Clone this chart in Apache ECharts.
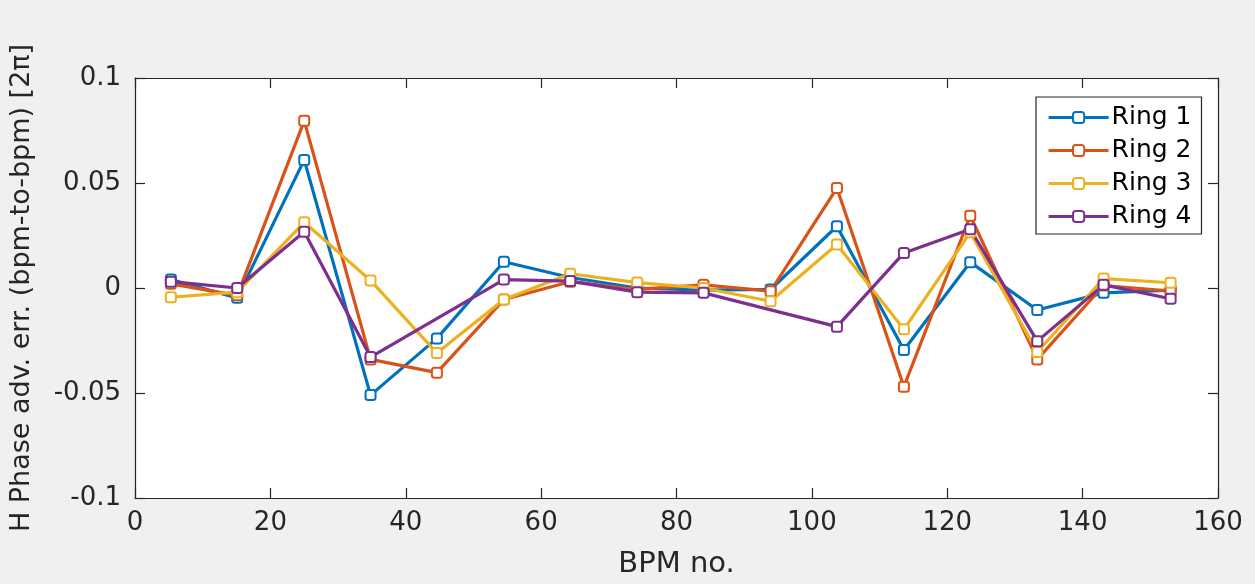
<!DOCTYPE html>
<html>
<head>
<meta charset="utf-8">
<script src="https://cdn.jsdelivr.net/npm/echarts@6/dist/echarts.min.js"></script>
<style>
html,body{margin:0;padding:0;background:#f0f0f0;}
#chart{width:1255px;height:584px;}
</style>
</head>
<body>
<div id="chart"></div>
<script>
const bpm = [5.3, 15.1, 25.0, 34.8, 44.6, 54.5, 64.3, 74.2, 84.0, 93.9, 103.7, 113.6, 123.4, 133.3, 143.1, 153.0];
const ring1 = [0.004, -0.0047, 0.061, -0.051, -0.024, 0.0125, 0.005, 0.0, -0.001, -0.0007, 0.0294, -0.0295, 0.0123, -0.0105, -0.0023, -0.001];
const ring2 = [0.002, -0.0035, 0.0796, -0.034, -0.0403, -0.0055, 0.003, -0.0007, 0.0015, -0.0015, 0.0476, -0.047, 0.0344, -0.034, 0.0012, -0.0015];
const ring3 = [-0.0044, -0.002, 0.0313, 0.0036, -0.031, -0.0055, 0.0068, 0.0026, 0.0, -0.0063, 0.0207, -0.0197, 0.0265, -0.0305, 0.0045, 0.0025];
const ring4 = [0.003, 0.0, 0.0268, -0.0329, null, 0.004, 0.0033, -0.002, -0.0023, null, -0.0184, 0.0167, 0.028, -0.0253, 0.0015, -0.0051];
const seriesNames = ['Ring 1', 'Ring 2', 'Ring 3', 'Ring 4'];
const colors = ['#0072BD', '#D95319', '#EDB120', '#7E2F8E'];
const xTicks = ['0', '20', '40', '60', '80', '100', '120', '140', '160'];
const yTicks = ['-0.1', '-0.05', '0', '0.05', '0.1'];

const FONT = 'DejaVu Sans';
const TXT = '#262626';
const allRings = [ring1, ring2, ring3, ring4];

const chart = echarts.init(document.getElementById('chart'), null, {renderer: 'canvas'});
const axisLine = {show: true, onZero: false, lineStyle: {color: TXT, width: 1.2}};
const tick = {show: true, inside: true, length: 10, lineStyle: {color: TXT, width: 1.2}};

chart.setOption({
  backgroundColor: '#f0f0f0',
  animation: false,
  textStyle: {fontFamily: FONT},
  grid: {left: 133, right: 37, top: 78, bottom: 85, show: true, backgroundColor: '#ffffff', borderWidth: 0, containLabel: false},
  legend: {
    data: seriesNames,
    orient: 'vertical',
    left: 1036, top: 97,
    padding: [8, 10, 5, 11],
    itemWidth: 60, itemHeight: 14, itemGap: 8,
    backgroundColor: '#ffffff',
    borderColor: TXT, borderWidth: 1.2,
    lineStyle: {width: 3.2},
    itemStyle: {borderWidth: 3},
    textStyle: {fontFamily: FONT, fontSize: 25, color: '#000', lineHeight: 22, padding: [0, 0, 0, -2]}
  },
  xAxis: [{
    type: 'value', min: 0, max: 160, interval: 20,
    name: 'BPM no.', nameLocation: 'middle', nameGap: 52,
    nameTextStyle: {fontFamily: FONT, fontSize: 29, color: TXT},
    axisLine: axisLine, axisTick: tick,
    axisLabel: {fontFamily: FONT, fontSize: 26, color: TXT, margin: 12,
      formatter: (v) => xTicks[Math.round(v / 20)]},
    splitLine: {show: false}
  }, {
    type: 'value', min: 0, max: 160, interval: 20, position: 'top',
    axisLine: axisLine, axisTick: tick, axisLabel: {show: false}, splitLine: {show: false}
  }],
  yAxis: [{
    type: 'value', min: -0.1, max: 0.1, interval: 0.05,
    name: 'H Phase adv. err. (bpm-to-bpm) [2π]', nameLocation: 'middle', nameGap: 100,
    nameTextStyle: {fontFamily: FONT, fontSize: 27, color: TXT},
    axisLine: axisLine, axisTick: tick,
    axisLabel: {fontFamily: FONT, fontSize: 26, color: TXT, margin: 14,
      formatter: (v) => yTicks[Math.round((v + 0.1) / 0.05)]},
    splitLine: {show: false}
  }, {
    type: 'value', min: -0.1, max: 0.1, interval: 0.05, position: 'right',
    axisLine: axisLine, axisTick: tick, axisLabel: {show: false}, splitLine: {show: false}
  }],
  series: allRings.map((arr, i) => ({
    name: seriesNames[i],
    type: 'line',
    xAxisIndex: 0, yAxisIndex: 0,
    data: bpm.map((x, j) => [x, arr[j]]).filter(p => p[1] !== null),
    connectNulls: true,
    symbol: 'emptyRoundRect',
    symbolSize: 10,
    lineStyle: {color: colors[i], width: 3.2},
    itemStyle: {color: colors[i], borderColor: colors[i], borderWidth: 3},
    emphasis: {disabled: true}
  }))
});
</script>
</body>
</html>
